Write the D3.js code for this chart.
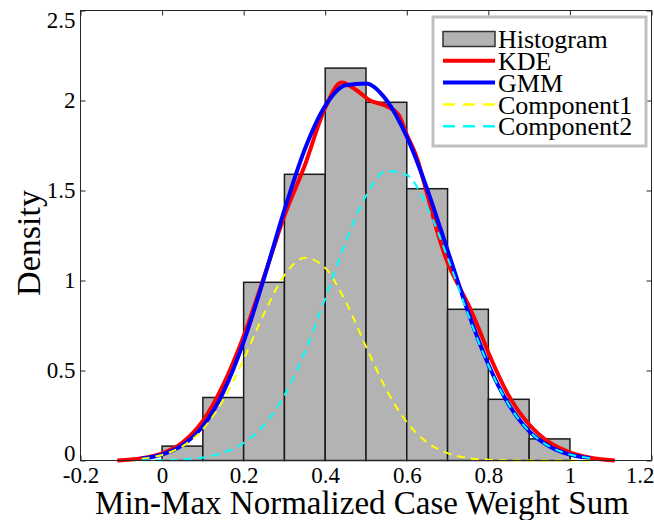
<!DOCTYPE html>
<html>
<head>
<meta charset="utf-8">
<script src="https://cdn.jsdelivr.net/npm/d3@7"></script>
<style>
  body { margin: 0; background: #fff; }
  svg { display: block; }
</style>
</head>
<body>
<div id="chart"></div>
<script>
// Histogram bins (left edges) and densities
const binLeft = [0, 0.1, 0.2, 0.3, 0.4, 0.5, 0.6, 0.7, 0.8, 0.9];
const binDensity = [0.08, 0.35, 0.99, 1.59, 2.18, 1.99, 1.51, 0.84, 0.34, 0.12];
const binWidth = 0.1;

// KDE curve
const kdeX = [-0.11, -0.05, 0, 0.05, 0.1, 0.15, 0.2, 0.25, 0.3, 0.35, 0.4, 0.44, 0.475, 0.51, 0.55, 0.58, 0.6, 0.625, 0.65, 0.675, 0.7, 0.725, 0.75, 0.775, 0.8, 0.85, 0.9, 0.95, 1.0, 1.05, 1.11];
const kdeY = [0.0, 0.012, 0.04, 0.10, 0.22, 0.42, 0.69, 1.02, 1.36, 1.64, 1.96, 2.10, 2.06, 2.00, 1.97, 1.92, 1.81, 1.68, 1.48, 1.27, 1.10, 0.98, 0.87, 0.74, 0.60, 0.36, 0.20, 0.10, 0.045, 0.015, 0.0];

// GMM and its two components on a shared grid
const gmmX = [-0.05, 0, 0.05, 0.1, 0.15, 0.2, 0.25, 0.3, 0.35, 0.4, 0.45, 0.5, 0.55, 0.6, 0.65, 0.7, 0.75, 0.8, 0.85, 0.9, 0.95, 1.0, 1.05];
const gmmY = [0.011, 0.033, 0.085, 0.191, 0.379, 0.659, 1.013, 1.392, 1.729, 1.970, 2.085, 2.095, 2.003, 1.799, 1.508, 1.168, 0.827, 0.533, 0.311, 0.163, 0.078, 0.033, 0.013];
const comp1Y = [0.010, 0.031, 0.079, 0.174, 0.336, 0.562, 0.816, 1.029, 1.126, 1.070, 0.883, 0.633, 0.394, 0.213, 0.100, 0.041, 0.014, 0.004, 0.001, 0.0, 0.0, 0.0, 0.0];
const comp2Y = [0.001, 0.002, 0.006, 0.017, 0.043, 0.097, 0.197, 0.363, 0.603, 0.900, 1.213, 1.471, 1.609, 1.586, 1.408, 1.127, 0.813, 0.529, 0.310, 0.163, 0.078, 0.033, 0.013];

// Ticks
const xTicks = [-0.2, 0, 0.2, 0.4, 0.6, 0.8, 1, 1.2];
const yTicks = [0, 0.5, 1, 1.5, 2, 2.5];

const legendItems = [
  {label: "Histogram", type: "patch"},
  {label: "KDE", type: "line", color: "#ff0000", dash: null, width: 4},
  {label: "GMM", type: "line", color: "#0000ff", dash: null, width: 4},
  {label: "Component1", type: "line", color: "#ffff00", dash: "12,8", width: 2.5},
  {label: "Component2", type: "line", color: "#00ffff", dash: "12,8", width: 2.5}
];

const W = 654, H = 520;
const plotL = 80.5, plotR = 651.5, plotT = 10.5, plotB = 460.5;
const axisColor = "#262626";
const serif = "'Liberation Serif', 'Times New Roman', Times, serif";

const svg = d3.select("#chart").append("svg")
  .attr("width", W).attr("height", H)
  .attr("font-family", serif);

const x = d3.scaleLinear().domain([-0.2, 1.2]).range([plotL, plotR]);
const y = d3.scaleLinear().domain([0, 2.5]).range([plotB, plotT]);

// Axes (ticks pointing inward)
const fmt = d => String(+d.toFixed(1));

const gx = svg.append("g")
  .attr("transform", `translate(0,${plotB})`)
  .call(d3.axisBottom(x).tickValues(xTicks).tickFormat(fmt).tickSize(-5).tickPadding(6));
const gy = svg.append("g")
  .attr("transform", `translate(${plotL},0)`)
  .call(d3.axisLeft(y).tickValues(yTicks).tickFormat(fmt).tickSize(-5).tickPadding(5));
svg.append("g")
  .attr("transform", `translate(${plotR},0)`)
  .call(d3.axisRight(y).tickValues(yTicks).tickFormat("").tickSize(-5));
svg.append("g")
  .attr("transform", `translate(0,${plotT})`)
  .call(d3.axisTop(x).tickValues(xTicks).tickFormat("").tickSize(-5));

svg.selectAll(".domain").remove();
svg.selectAll(".tick line").attr("stroke", axisColor);
svg.selectAll("g").attr("font-family", serif);
gx.selectAll("text").attr("font-size", 23).attr("fill", "#000");
gy.selectAll("text").attr("font-size", 23).attr("fill", "#000");
// end labels sit slightly inside the axis range, as in the reference
gy.selectAll(".tick text").attr("dy", d => d === 0 ? "-0.0em" : d === 2.5 ? "0.72em" : "0.32em");
gx.selectAll(".tick text").attr("dx", d => d === 1.2 ? -12 : 0);

// Histogram bars
svg.append("g").selectAll("rect")
  .data(binLeft)
  .join("rect")
  .attr("x", (d) => x(d))
  .attr("y", (d, i) => y(binDensity[i]))
  .attr("width", d => x(d + binWidth) - x(d))
  .attr("height", (d, i) => y(0) - y(binDensity[i]))
  .attr("fill", "#b3b3b3")
  .attr("stroke", "#1a1a1a")
  .attr("stroke-width", 1.5);

// Curves
const line = d3.line()
  .x(d => x(d[0]))
  .y(d => y(d[1]))
  .curve(d3.curveMonotoneX);

const kdePts = kdeX.map((v, i) => [v, kdeY[i]]);
const gmmPts = gmmX.map((v, i) => [v, gmmY[i]]);
const c1Pts = gmmX.map((v, i) => [v, comp1Y[i]]);
const c2Pts = gmmX.map((v, i) => [v, comp2Y[i]]);

svg.append("path").datum(kdePts)
  .attr("d", line).attr("fill", "none")
  .attr("stroke", "#ff0000").attr("stroke-width", 4);
svg.append("path").datum(gmmPts)
  .attr("d", line).attr("fill", "none")
  .attr("stroke", "#0000ff").attr("stroke-width", 4);
svg.append("path").datum(c1Pts)
  .attr("d", line).attr("fill", "none")
  .attr("stroke", "#ffff00").attr("stroke-width", 2)
  .attr("stroke-dasharray", "8,6");
svg.append("path").datum(c2Pts)
  .attr("d", line).attr("fill", "none")
  .attr("stroke", "#00ffff").attr("stroke-width", 2)
  .attr("stroke-dasharray", "8,6");

// Box
svg.append("rect")
  .attr("x", plotL).attr("y", plotT)
  .attr("width", plotR - plotL).attr("height", plotB - plotT)
  .attr("fill", "none").attr("stroke", axisColor).attr("stroke-width", 1);

// Axis titles
svg.append("text")
  .attr("x", 362)
  .attr("y", 514)
  .attr("text-anchor", "middle")
  .attr("font-size", 33)
  .text("Min-Max Normalized Case Weight Sum");

svg.append("text")
  .attr("transform", "translate(40,243) rotate(-90)")
  .attr("text-anchor", "middle")
  .attr("font-size", 34)
  .text("Density");

// Legend
const lg = svg.append("g");
lg.append("rect")
  .attr("x", 433).attr("y", 17)
  .attr("width", 213).attr("height", 129)
  .attr("fill", "#fff").attr("stroke", "#bfbfbf").attr("stroke-width", 3);

const rowY0 = 39, rowStep = 21.8;
legendItems.forEach((it, i) => {
  const cy = rowY0 + i * rowStep;
  if (it.type === "patch") {
    lg.append("rect")
      .attr("x", 443).attr("y", cy - 7.5)
      .attr("width", 52).attr("height", 15)
      .attr("fill", "#b3b3b3").attr("stroke", "#333").attr("stroke-width", 1.5);
  } else {
    lg.append("line")
      .attr("x1", 443).attr("x2", 495)
      .attr("y1", cy).attr("y2", cy)
      .attr("stroke", it.color).attr("stroke-width", it.width)
      .attr("stroke-dasharray", it.dash);
  }
  lg.append("text")
    .attr("x", 498).attr("y", cy)
    .attr("dy", "0.35em")
    .attr("font-size", 26)
    .text(it.label);
});
</script>
</body>
</html>
